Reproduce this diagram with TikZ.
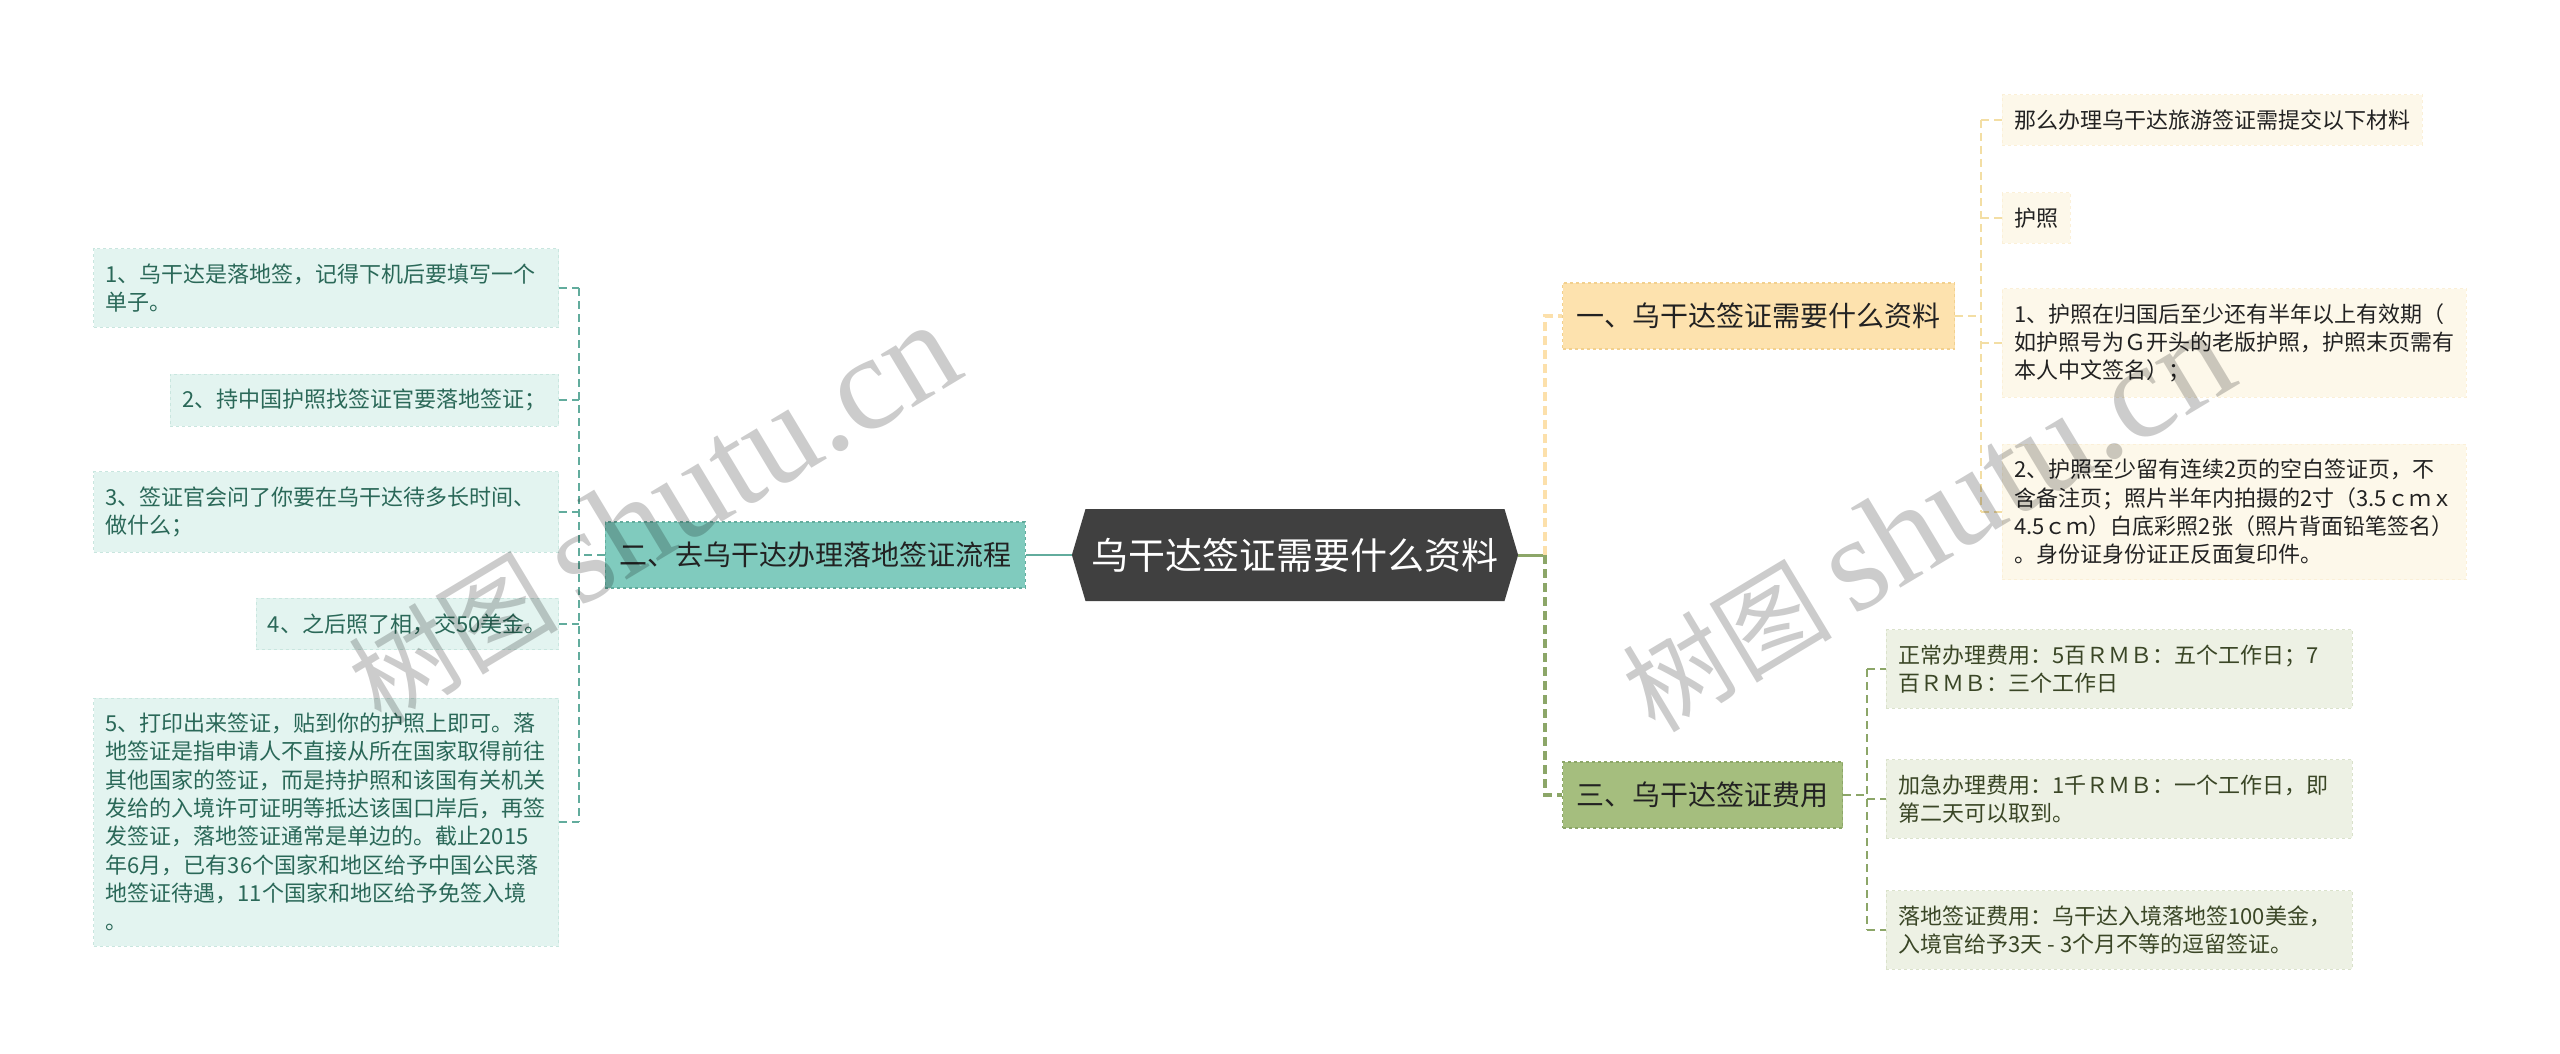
\documentclass[tikz,border=0pt]{standalone}
\usepackage{fontspec}
\setmainfont{Noto Sans CJK SC}
\newfontfamily\wmlatin{Liberation Serif}
\usetikzlibrary{shapes.symbols}
\definecolor{rootc}{RGB}{64,64,64}
\definecolor{flowc}{RGB}{128,203,190}
\definecolor{flowd}{RGB}{98,172,157}
\definecolor{flowlf}{RGB}{227,244,240}
\definecolor{flowt}{RGB}{42,104,88}
\definecolor{needc}{RGB}{253,226,174}
\definecolor{needd}{RGB}{242,208,142}
\definecolor{needlf}{RGB}{253,248,234}
\definecolor{needl}{RGB}{243,222,164}
\definecolor{costc}{RGB}{165,190,126}
\definecolor{costd}{RGB}{140,166,104}
\definecolor{costlf}{RGB}{237,241,228}
\definecolor{costt}{RGB}{58,70,38}
\definecolor{darkt}{RGB}{34,34,34}

\begin{document}
\begin{tikzpicture}[x=1pt,y=-1pt,
  rootbox/.style={signal,signal to=west and east,signal pointer angle=147,fill=rootc,text=white,
    font=\fontsize{37}{44}\selectfont,minimum height=92pt,inner xsep=6pt,inner ysep=0pt},
  branch/.style={draw,dashed,line width=1.2pt,text=darkt,font=\fontsize{28}{34}\selectfont,
    minimum height=66pt,inner xsep=14pt,inner ysep=0pt},
  leaf/.style={inner xsep=12pt,inner ysep=15pt,align=left,line width=0.8pt,dashed,
    font=\fontsize{22}{28.3}\selectfont},
  flowleaf/.style={leaf,anchor=east,fill=flowlf,draw=flowlf!80!flowd,text=flowt},
  needleaf/.style={leaf,anchor=west,fill=needlf,draw=needlf!80!needd,text=darkt},
  costleaf/.style={leaf,anchor=west,fill=costlf,draw=costlf!80!costd,text=costt},
  flowline/.style={flowd,line width=2pt,dash pattern=on 8pt off 5pt},
  needline/.style={needl,line width=2pt,dash pattern=on 8pt off 5pt},
  costline/.style={costd,line width=2pt,dash pattern=on 8pt off 5pt},
  wmark/.style={text=black,text opacity=0.2,rotate=31,inner sep=0pt}]

\fill[white] (0,0) rectangle (2560,1054);
\useasboundingbox (0,0) rectangle (2560,1054);

%================= centre =================
\node[rootbox] (root) at (1295,555) {乌干达签证需要什么资料};

%================= left: the landing-visa steps =================
\node[branch,fill=flowc,draw=flowd,anchor=east] (flow) at (1026,555) {二、去乌干达办理落地签证流程};

\node[flowleaf,text width=441pt] (flow1) at (559,288)
  {1、乌干达是落地签，记得下机后要填写一个\\单子。};
\node[flowleaf] (flow2) at (559,400) {2、持中国护照找签证官要落地签证；};
\node[flowleaf,text width=441pt] (flow3) at (559,512)
  {3、签证官会问了你要在乌干达待多长时间、\\做什么；};
\node[flowleaf] (flow4) at (559,624) {4、之后照了相，交50美金。};
\node[flowleaf,text width=441pt] (flow5) at (559,822)
  {5、打印出来签证，贴到你的护照上即可。落\\地签证是指申请人不直接从所在国家取得前往\\其他国家的签证，而是持护照和该国有关机关\\发给的入境许可证明等抵达该国口岸后，再签\\发签证，落地签证通常是单边的。截止2015\\年6月，已有36个国家和地区给予中国公民落\\地签证待遇，11个国家和地区给予免签入境\\。};

% --- connectors
\coordinate (flowx) at (579,555);
\draw[flowd,line width=2.4pt] (root.west) -- (flow.east);
\draw[flowline] (flow.west) -- (flowx);
\draw[flowline] (flow1.east -| flowx) -- (flow5.east -| flowx);
\foreach \n in {flow1,flow2,flow3,flow4,flow5}{
  \draw[flowline] (\n.east) -- (\n.east -| flowx);}

%================= right: papers and fees =================
\node[branch,fill=needc,draw=needd,anchor=west] (need) at (1562,316) {一、乌干达签证需要什么资料};
\node[branch,fill=costc,draw=costd,anchor=west] (cost) at (1562,795) {三、乌干达签证费用};

\coordinate (mainx) at (1545,555);
\draw[costd,line width=3pt] (root.east) -- (mainx);
\draw[needc!90!needd,line width=3.5pt,dash pattern=on 9pt off 5pt] (mainx) -- (mainx |- need.west) -- (need.west);
\draw[costd,line width=3.5pt,dash pattern=on 9pt off 5pt] (mainx) -- (mainx |- cost.west) -- (cost.west);

% --- papers
\node[needleaf] (need1) at (2002,120) {那么办理乌干达旅游签证需提交以下材料};
\node[needleaf] (need2) at (2002,218) {护照};
\node[needleaf,text width=440pt] (need3) at (2002,343)
  {1、护照在归国后至少还有半年以上有效期（\\如护照号为Ｇ开头的老版护照，护照末页需有\\本人中文签名）；};
\node[needleaf,text width=440pt] (need4) at (2002,512)
  {2、护照至少留有连续2页的空白签证页，不\\含备注页；照片半年内拍摄的2寸（3.5ｃｍｘ\\4.5ｃｍ）白底彩照2张（照片背面铅笔签名）\\。身份证身份证正反面复印件。};

\coordinate (needx) at (1981,316);
\draw[needline] (need.east) -- (needx);
\draw[needline] (need1.west -| needx) -- (need4.west -| needx);
\foreach \n in {need1,need2,need3,need4}{
  \draw[needline] (\n.west -| needx) -- (\n.west);}

% --- fees
\node[costleaf,text width=442pt] (cost1) at (1886,669)
  {正常办理费用：5百ＲＭＢ：五个工作日；7\\百ＲＭＢ：三个工作日};
\node[costleaf,text width=442pt] (cost2) at (1886,799)
  {加急办理费用：1千ＲＭＢ：一个工作日，即\\第二天可以取到。};
\node[costleaf,text width=442pt] (cost3) at (1886,930)
  {落地签证费用：乌干达入境落地签100美金，\\入境官给予3天\hspace{5pt}-\hspace{5pt}3个月不等的逗留签证。};

\coordinate (costx) at (1867,795);
\draw[costline] (cost.east) -- (costx);
\draw[costline] (cost1.west -| costx) -- (cost3.west -| costx);
\foreach \n in {cost1,cost2,cost3}{
  \draw[costline] (\n.west -| costx) -- (\n.west);}

%================= watermarks =================
\node[wmark] (wmleft) at (653,514)
  {\fontsize{105}{110}\selectfont 树图\hspace{20pt}{\wmlatin\fontsize{135}{140}\selectfont shutu.cn}};
\node[wmark] (wmright) at (1927,522)
  {\fontsize{105}{110}\selectfont 树图\hspace{20pt}{\wmlatin\fontsize{135}{140}\selectfont shutu.cn}};
\end{tikzpicture}
\end{document}
